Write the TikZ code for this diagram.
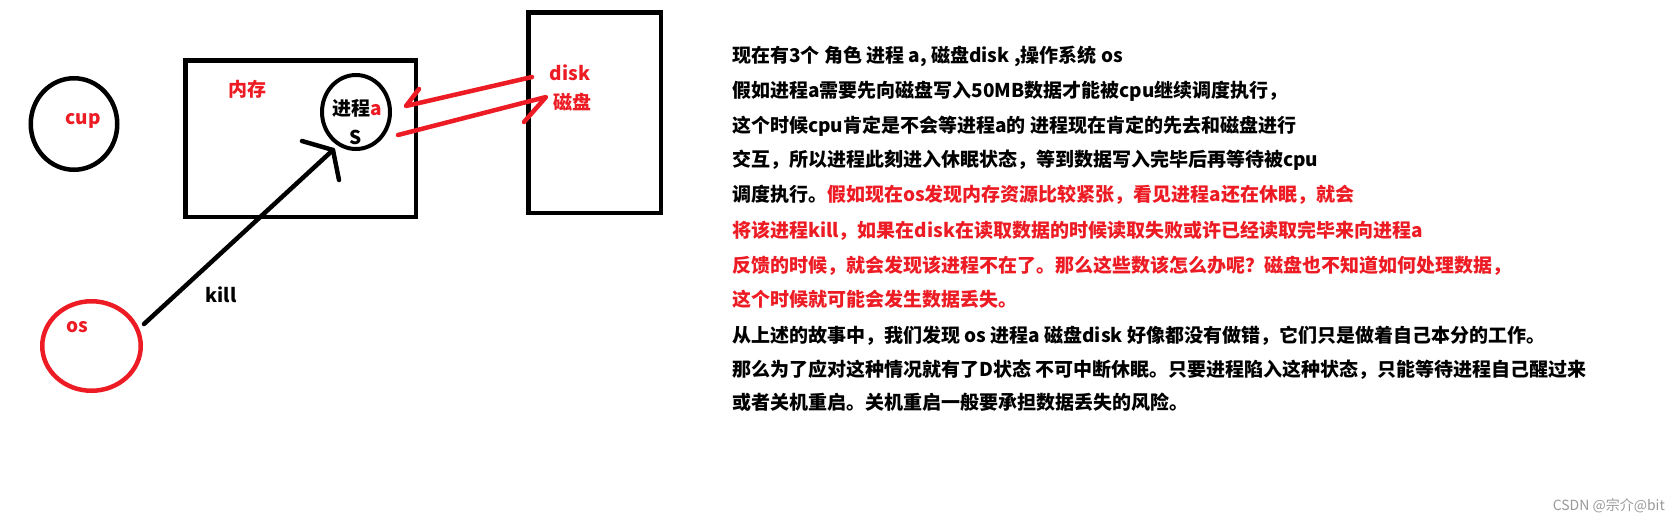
\documentclass[tikz,border=0pt]{standalone}
\usepackage{fontspec}
\setmainfont{Noto Sans CJK SC}
\usetikzlibrary{shapes.geometric}
\definecolor{pred}{HTML}{ED1C24}
\definecolor{wm}{HTML}{9A9A9A}
\tikzset{
  blob/.style={draw, ellipse, line width=4.5pt, inner sep=0pt},
  box/.style={draw, rectangle, line width=4.5pt, inner sep=0pt},
  lbl/.style={font=\fontsize{19}{22}\selectfont\bfseries, inner sep=0pt},
  txt/.style={font=\fontsize{19}{22}\selectfont\bfseries, inner sep=0pt, anchor=base west},
  stroke/.style={line width=4.5pt, line cap=round, line join=round},
}
\begin{document}
\begin{tikzpicture}[x=1pt,y=-1pt]
\useasboundingbox[fill=white] (0,0) rectangle (1680,523);
% shapes
\node[blob, minimum width=86.5pt, minimum height=91.5pt] (cup) at (74,124) {};
\node[lbl, text=pred] (cupl) at (83,121) {cup};
\node[box, minimum width=230.5pt, minimum height=156.5pt] (mem) at (300.5,138.5) {};
\node[lbl, text=pred] (meml) at (247,89) {内存};
\node[blob, line width=4pt, minimum width=68pt, minimum height=74pt] (proc) at (356,112) {};
\node[lbl] (procl) at (357,108) {进程\textcolor{pred}{a}};
\node[lbl] (procs) at (356,137) {S};
\node[box, minimum width=132.5pt, minimum height=200.5pt] (disk) at (594.5,112.5) {};
\node[lbl, text=pred] (diskl) at (570,73) {disk};
\node[lbl, text=pred] (diskc) at (572,102) {磁盘};
\node[blob, draw=pred, minimum width=98.5pt, minimum height=89.5pt] (os) at (91.5,346) {};
\node[lbl, text=pred] (osl) at (77,327) {os};
\node[lbl] (killl) at (221,295) {kill};
% kill arrow
\coordinate (ks) at (144,324);
\coordinate (kt) at (333,150);
\coordinate (kb1) at (302,141);
\coordinate (kb2) at (339,180);
\draw[stroke] (ks) -- (kt);
\draw[stroke] (kb1) -- (kt) -- (kb2);
% red arrows
\coordinate (as) at (532,77);
\coordinate (at) at (406,106);
\coordinate (ab) at (419,89);
\draw[stroke, draw=pred] (as) -- (at) -- (ab);
\coordinate (bs) at (398,135);
\coordinate (bt) at (546,97);
\coordinate (bb) at (524,122);
\draw[stroke, draw=pred] (bs) -- (bt) -- (bb);
% text
\node[txt] (l1) at (732,62) {现在有3个 角色 进程 a, 磁盘disk ,操作系统 os};
\node[txt] (l2) at (732,97) {假如进程a需要先向磁盘写入50MB数据才能被cpu继续调度执行，};
\node[txt] (l3) at (732,132) {这个时候cpu肯定是不会等进程a的 进程现在肯定的先去和磁盘进行};
\node[txt] (l4) at (732,166) {交互，所以进程此刻进入休眠状态，等到数据写入完毕后再等待被cpu};
\node[txt] (l5) at (732,201) {调度执行。\textcolor{pred}{假如现在os发现内存资源比较紧张，看见进程a还在休眠，就会}};
\node[txt, text=pred] (l6) at (732,237) {将该进程kill，如果在disk在读取数据的时候读取失败或许已经读取完毕来向进程a};
\node[txt, text=pred] (l7) at (732,272) {反馈的时候，就会发现该进程不在了。那么这些数该怎么办呢？磁盘也不知道如何处理数据，};
\node[txt, text=pred] (l8) at (732,306) {这个时候就可能会发生数据丢失。};
\node[txt] (l9) at (732,342) {从上述的故事中，我们发现 os 进程a 磁盘disk 好像都没有做错，它们只是做着自己本分的工作。};
\node[txt] (l10) at (732,376) {那么为了应对这种情况就有了D状态 不可中断休眠。只要进程陷入这种状态，只能等待进程自己醒过来};
\node[txt] (l11) at (732,409) {或者关机重启。关机重启一般要承担数据丢失的风险。};
\node[font=\fontsize{14}{16}\selectfont, text=wm, inner sep=0pt, anchor=east] (wmk) at (1665,506) {CSDN @宗介@bit};
\end{tikzpicture}
\end{document}
